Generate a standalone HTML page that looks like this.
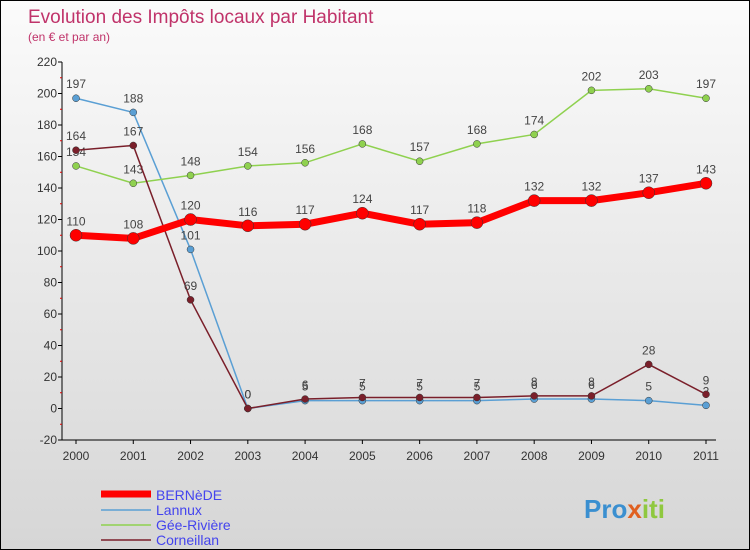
<!DOCTYPE html>
<html><head><meta charset="utf-8"><style>
body{margin:0;}
#wrap{width:750px;height:550px;position:relative;overflow:hidden;box-sizing:border-box;border:1px solid #000;background:linear-gradient(#fbfbfb,#d6d6d6);font-family:"Liberation Sans",sans-serif;}
</style></head><body>
<div id="wrap">
<svg id="svg" width="750" height="550" style="position:absolute;left:0;top:0">
<text x="27" y="22" font-size="19" fill="#c0336a">Evolution des Impôts locaux par Habitant</text>
<text x="27" y="40" font-size="12" fill="#c0336a">(en € et par an)</text>
<g id="axes"></g><g id="series"></g>
<g font-size="14" fill="#4444ee">
<line x1="100" y1="493" x2="150" y2="493" stroke="#f00" stroke-width="7"/><text x="155" y="499">BERNèDE</text>
<line x1="100" y1="509" x2="150" y2="509" stroke="#5a9fd4" stroke-width="1.5"/><text x="155" y="514">Lannux</text>
<line x1="100" y1="524" x2="150" y2="524" stroke="#8fd14f" stroke-width="1.5"/><text x="155" y="529">Gée-Rivière</text>
<line x1="100" y1="539" x2="150" y2="539" stroke="#7a1f2a" stroke-width="1.5"/><text x="155" y="544">Corneillan</text>
</g>
<text x="583" y="517" font-size="26" font-weight="bold" fill="#3a8fd0">Pro<tspan fill="#e06020">x</tspan><tspan fill="#8fc83f">iti</tspan></text>
</svg>
<script>
const years=[2000,2001,2002,2003,2004,2005,2006,2007,2008,2009,2010,2011];
const yTicks=[-20,0,20,40,60,80,100,120,140,160,180,200,220];
const bernede=[110,108,120,116,117,124,117,118,132,132,137,143];
const lannux=[197,188,101,0,5,5,5,5,6,6,5,2];
const gee=[154,143,148,154,156,168,157,168,174,202,203,197];
const corneillan=[164,167,69,0,6,7,7,7,8,8,28,9];
const NS="http://www.w3.org/2000/svg";
const X=i=>75+i*(630/11), Y=v=>407.5-v*1.575;
function mk(t,a,p){const e=document.createElementNS(NS,t);for(const k in a)e.setAttribute(k,a[k]);p.appendChild(e);return e;}
const ax=document.getElementById('axes');
const yl=mk('line',{x1:61,y1:Y(220),x2:61,y2:Y(-20),stroke:'#000'},ax);


const xl=mk('line',{x1:61,y1:Y(-20),x2:715,y2:Y(-20),stroke:'#000'},ax);


yTicks.forEach(v=>{mk('line',{x1:57,x2:61,y1:Y(v),y2:Y(v),stroke:'#000'},ax);
 if(v<220)mk('line',{x1:59,x2:61,y1:Y(v+10),y2:Y(v+10),stroke:'#d00'},ax);
 const t=mk('text',{x:56,y:Y(v)+4,'text-anchor':'end','font-size':12,fill:'#333'},ax);t.textContent=v;
 
 });
years.forEach((y,i)=>{mk('line',{x1:X(i),x2:X(i),y1:Y(-20),y2:Y(-20)+4,stroke:'#000'},ax);
 const t=mk('text',{x:X(i),y:Y(-20)+20,'text-anchor':'middle','font-size':12,fill:'#333'},ax);t.textContent=y;
 
 });
const sg=document.getElementById('series');
function draw(arr,col,w,r,name){const g=mk('g',{},sg);
 
 
 mk('polyline',{points:arr.map((v,i)=>X(i)+','+Y(v)).join(' '),fill:'none',stroke:col,'stroke-width':w},g);
 arr.forEach((v,i)=>{const c=mk('circle',{cx:X(i),cy:Y(v),r:r,fill:col,stroke:'#333','stroke-width':0.5},g);
  
  
  const t=mk('text',{x:X(i),y:Y(v)-10,'text-anchor':'middle','font-size':12,fill:'#444'},g);t.textContent=v;});}
draw(lannux,'#5a9fd4',1.5,3.5,'lannux');
draw(gee,'#8fd14f',1.5,3.5,'gee-riviere');
draw(corneillan,'#7a1f2a',1.5,3.5,'corneillan');
draw(bernede,'#f00',7,6,'bernede');
</script>
</div></body></html>
